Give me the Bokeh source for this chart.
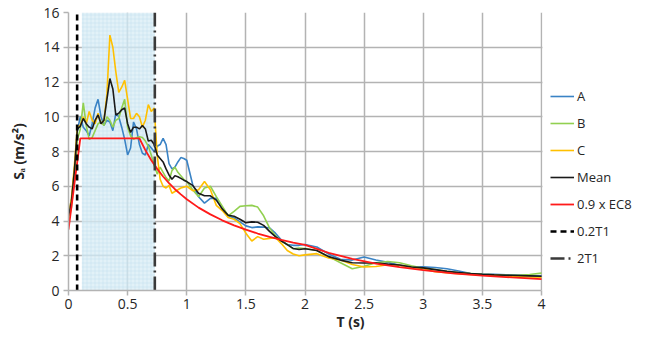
from bokeh.plotting import figure
from bokeh.models import Range1d, FixedTicker, BoxAnnotation, Legend, LegendItem
from bokeh.embed import file_html
from bokeh.resources import INLINE

# ---------------- data ----------------
T = [0, 0.025, 0.05, 0.075, 0.1, 0.125, 0.15, 0.175, 0.2, 0.225, 0.25, 0.275, 0.3, 0.325, 0.35,
     0.375, 0.4, 0.425, 0.45, 0.475, 0.5, 0.525, 0.55, 0.575, 0.6, 0.625, 0.65, 0.675, 0.7, 0.725,
     0.75, 0.775, 0.8, 0.825, 0.85, 0.875, 0.9, 0.925, 0.95, 0.975, 1.0,
     1.05, 1.1, 1.15, 1.2, 1.25, 1.3, 1.35, 1.4, 1.45, 1.5, 1.55, 1.6, 1.65, 1.7, 1.75, 1.8, 1.85,
     1.9, 1.95, 2.0,
     2.1, 2.2, 2.3, 2.4, 2.5, 2.6, 2.7, 2.8, 2.9, 3.0, 3.1, 3.2, 3.3, 3.4, 3.5, 3.6, 3.7, 3.8, 3.9, 4.0]

A = [4.5, 5.2, 6.9, 9.2, 10.0, 9.4, 9.2, 8.9, 9.6, 10.5, 11.0, 10.0, 9.5, 9.8, 9.7, 9.2, 10.2, 10.0,
     9.4, 8.7, 7.8, 8.2, 9.7, 9.3, 8.4, 7.9, 7.8, 8.4, 8.2, 8.0, 8.3, 8.4, 8.75, 8.4, 7.3, 7.0, 7.1,
     7.4, 7.65, 7.6, 7.5,
     6.1, 5.4, 5.03, 5.3, 5.3, 4.7, 4.3, 4.17, 3.95, 3.72, 3.62, 3.66, 3.65, 3.6, 3.3, 2.9, 2.64,
     2.6, 2.6, 2.65,
     2.5, 2.1, 1.8, 1.75, 1.93, 1.76, 1.62, 1.45, 1.35, 1.36, 1.32, 1.25, 1.12, 0.98, 0.95, 0.93,
     0.91, 0.89, 0.86, 0.83]

B = [4.0, 4.8, 6.5, 8.7, 9.3, 10.8, 9.5, 8.7, 8.8, 9.2, 9.6, 9.7, 9.5, 10.0, 9.8, 9.4, 9.8, 9.9,
     10.5, 11.0, 9.4, 8.9, 8.7, 8.8, 8.85, 8.8, 8.6, 8.3, 7.8, 7.2, 6.7, 7.1, 6.8, 6.5, 6.3, 6.9,
     7.1, 6.8, 6.6, 6.4, 6.27,
     5.8, 5.4, 5.9, 6.0, 5.4, 4.85, 4.3, 4.55, 4.84, 4.88, 4.9, 4.8, 4.3, 3.6, 3.15, 2.85, 2.65,
     2.4, 2.45, 2.42,
     2.3, 1.95, 1.6, 1.25, 1.4, 1.6, 1.67, 1.6, 1.42, 1.28, 1.2, 1.1, 1.03, 0.98, 0.93, 0.9, 0.88,
     0.87, 0.92, 1.0]

C = [4.3, 5.3, 7.2, 9.4, 9.5, 10.0, 9.6, 10.3, 9.8, 9.6, 10.2, 9.6, 9.8, 11.3, 14.7, 14.0, 12.6,
     11.4, 11.7, 12.1, 11.0, 9.9, 9.9, 10.2, 10.0, 9.4, 9.8, 10.7, 10.3, 10.5, 7.8, 6.4, 6.0, 5.9,
     6.05, 5.6, 5.7, 5.8, 5.9, 5.95, 6.0,
     5.75, 5.8, 6.27, 5.8, 4.9, 4.6, 4.2, 4.1, 3.85, 3.3, 2.85, 3.1, 2.95, 3.0, 3.05, 2.7, 2.3,
     2.1, 2.0, 2.05,
     2.12, 1.87, 1.75, 1.5, 1.35, 1.38, 1.48, 1.45, 1.32, 1.25, 1.08, 1.03, 0.97, 0.92, 0.9, 0.87,
     0.84, 0.8, 0.78, 0.76]

MEAN = [4.3, 5.1, 6.9, 9.3, 9.45, 9.9, 9.6, 9.4, 9.3, 9.8, 10.1, 9.6, 9.8, 11.0, 12.2, 11.6, 10.1,
        10.2, 10.4, 10.5, 9.6, 9.1, 9.4, 9.4, 9.3, 9.5, 9.3, 8.6, 8.65, 8.4, 7.8, 7.6, 7.4, 7.0,
        6.65, 6.4, 6.6, 6.55, 6.45, 6.35, 6.27,
        6.05, 5.6, 5.45, 5.45, 5.2, 4.7, 4.33, 4.27, 4.1, 3.9, 3.95, 3.93, 3.75, 3.4, 3.1, 2.85,
        2.64, 2.42, 2.36, 2.4,
        2.3, 1.95, 1.75, 1.6, 1.58, 1.58, 1.52, 1.47, 1.35, 1.3, 1.2, 1.1, 1.04, 0.98, 0.93, 0.9,
        0.88, 0.86, 0.84, 0.82]

EC8_T = [0, 0.1, 0.6, 0.65, 0.7, 0.75, 0.8, 0.85, 0.9, 0.95, 1.0, 1.1, 1.2, 1.3, 1.4, 1.5, 1.6,
         1.7, 1.8, 1.9, 2.0, 2.2, 2.4, 2.6, 2.8, 3.0, 3.25, 3.5, 3.75, 4.0]
EC8_S = [3.5, 8.75, 8.75, 8.08, 7.5, 7.0, 6.56, 6.18, 5.83, 5.53, 5.25, 4.77, 4.38, 4.04, 3.75,
         3.5, 3.28, 3.09, 2.92, 2.76, 2.63, 2.17, 1.82, 1.55, 1.34, 1.17, 0.99, 0.86, 0.75, 0.66]

T_02T1 = 0.073          # 0.2 T1
T_2T1 = 0.73            # 2 T1
SHADE_FROM = 0.113      # start of shaded band
X_MIN, X_MAX = 0, 4
Y_MIN, Y_MAX = 0, 16
X_TICKS = [0, 0.5, 1, 1.5, 2, 2.5, 3, 3.5, 4]
X_TICK_LABELS = ["0", "0.5", "1", "1.5", "2", "2.5", "3", "3.5", "4"]
Y_TICKS = [0, 2, 4, 6, 8, 10, 12, 14, 16]
Y_TICK_LABELS = ["0", "2", "4", "6", "8", "10", "12", "14", "16"]

SERIES_NAMES = ["A", "B", "C", "Mean", "0.9 x EC8", "0.2T1", "2T1"]

# ---------------- layout (pixels) ----------------
W, H = 632, 334
FRAME_LEFT, PLOT_RIGHT = 68, 541      # plot area spans these pixels; legend lives to the right
# frame extends to the figure's right edge so the legend can sit inside it
X_VIEW_MAX = X_MAX * (W - FRAME_LEFT) / (PLOT_RIGHT - FRAME_LEFT)

FONT = "Open Sans"
GRID = "#b3b3b3"

p = figure(width=W, height=H, x_range=Range1d(X_MIN, X_VIEW_MAX), y_range=Range1d(Y_MIN, Y_MAX),
           output_backend="svg", toolbar_location=None,
           min_border_left=FRAME_LEFT, min_border_right=0, min_border_top=12, min_border_bottom=44)
p.outline_line_color = None
p.background_fill_color = "white"
p.border_fill_color = "white"

p.xaxis.ticker = FixedTicker(ticks=X_TICKS)
p.yaxis.ticker = FixedTicker(ticks=Y_TICKS)
p.xaxis.major_label_overrides = {t: l for t, l in zip(X_TICKS, X_TICK_LABELS)}
p.yaxis.major_label_overrides = {t: l for t, l in zip(Y_TICKS, Y_TICK_LABELS)}
p.xaxis.bounds = (X_MIN, X_MAX)

for ax in (p.xaxis, p.yaxis):
    ax.axis_line_color = GRID
    ax.axis_line_width = 1.5
    ax.major_tick_line_color = GRID
    ax.major_tick_line_width = 1.5
    ax.major_tick_out = 5
    ax.major_tick_in = 0
    ax.minor_tick_line_color = None
    ax.major_label_text_font = FONT
    ax.major_label_text_font_size = "14px"
    ax.major_label_text_color = "#262626"
    ax.axis_label_text_font = FONT
    ax.axis_label_text_font_style = "bold"
    ax.axis_label_text_font_size = "14px"
    ax.axis_label_text_color = "#262626"

p.xaxis.axis_label = "T (s)"
p.xaxis.major_label_standoff = 3
p.xaxis.axis_label_standoff = 0
p.yaxis.axis_label = "Sₐ (m/s²)"
p.yaxis.major_label_standoff = 4
p.yaxis.axis_label_standoff = 12

p.xgrid.grid_line_color = GRID
p.ygrid.grid_line_color = GRID
p.xgrid.grid_line_width = 1.5
p.ygrid.grid_line_width = 1.5

band = BoxAnnotation(left=SHADE_FROM, right=T_2T1, fill_color="#d8ecf5", fill_alpha=0.75,
                     hatch_pattern="+", hatch_color="#bcdcea", hatch_alpha=0.7, hatch_scale=4,
                     hatch_weight=0.6, line_color=None, level="underlay")
p.add_layout(band)
# blank out the grid to the right of the plot area (legend region)
cover = BoxAnnotation(left=X_MAX + 0.008, fill_color="white", fill_alpha=1, line_color=None,
                      level="underlay")
p.add_layout(cover)

rA = p.line(T, A, line_color="#3a83c5", line_width=1.6)
rB = p.line(T, B, line_color="#92d050", line_width=1.6)
rC = p.line(T, C, line_color="#ffc000", line_width=1.6)
rM = p.line(T, MEAN, line_color="#1a1a1a", line_width=1.6)
rE = p.line(EC8_T, EC8_S, line_color="#ff1a1a", line_width=1.8)
rV1 = p.line([T_02T1, T_02T1], [Y_MIN, Y_MAX], line_color="black", line_width=2.6, line_dash="6 4")
rV2 = p.line([T_2T1, T_2T1], [Y_MIN, Y_MAX], line_color="#3a3a3a", line_width=2.6,
             line_dash="14 4 2 4")

renderers = [rA, rB, rC, rM, rE, rV1, rV2]
legend = Legend(items=[LegendItem(label=n, renderers=[r]) for n, r in zip(SERIES_NAMES, renderers)],
                location=(550 - FRAME_LEFT, 22), margin=0, padding=0, spacing=7,
                label_height=20, glyph_height=20, glyph_width=24, label_standoff=3,
                label_text_font=FONT, label_text_font_size="13px", label_text_color="#262626",
                border_line_color=None, background_fill_alpha=0)
p.add_layout(legend)

open("out.html", "w").write(file_html(p, INLINE))
